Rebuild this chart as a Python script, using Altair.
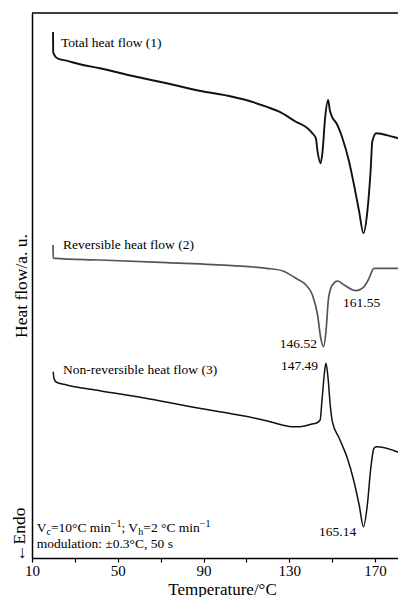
import altair as alt
import pandas as pd

# ---------------- data ----------------
# temperature (°C) and heat flow (a.u.) for the three curves
total_T = [19.8, 19.9, 20.7, 22.0, 26.1, 33.7, 41.6, 57.0, 72.8, 88.1, 103.5, 111.4,
           119.3, 125.3, 133.1, 138.5, 140.8, 142.4, 143.2, 144.6, 145.5, 146.7,
           148.1, 148.9, 149.9, 152.0, 154.8, 157.9, 160.2, 162.6, 164.6, 166.4,
           168.0, 168.7, 170.6, 178.0, 184.0]
total_hf = [530, 510, 506, 503.5, 501.3, 497, 493.7, 486, 478.7, 471.3, 465.3, 461,
            455.3, 450.3, 440.3, 433.7, 428.7, 423.7, 410.3, 398.7, 410.3, 443.7,
            462, 452, 445.3, 438.7, 423.7, 400.3, 377, 350.3, 328.7, 350.3,
            393.7, 420.3, 428.7, 425.3, 422]

rev_T = [19.8, 19.9, 20.7, 41.6, 72.8, 103.5, 119.3, 126.7, 133.1, 137.8, 140.8,
         143.2, 144.7, 146.0, 147.1, 148.3, 150.1, 152.5, 155.6, 161.0, 164.9,
         167.2, 169.5, 184.0]
rev_hf = [317, 304, 303.7, 302, 299.3, 296.3, 293.7, 291.3, 283.7, 277, 267,
          247, 223.7, 215.3, 230.3, 263.7, 277, 281, 277, 271.3, 275.3,
          283.7, 293.7, 293.7]

nonrev_T = [19.9, 20.2, 21.2, 26.1, 41.6, 64.9, 88.1, 103.5, 119.3, 126.7, 131.5,
            134.7, 137.8, 140.7, 142.4, 144.4, 145.2, 146.3, 147.1, 148.1, 149.1,
            150.1, 153.3, 157.1, 160.2, 162.6, 164.6, 166.4, 168.0, 169.5, 170.6,
            184.0]
nonrev_hf = [190.3, 184, 180, 177, 171.3, 163, 153.7, 148, 141.3, 137, 135.3,
             135.3, 136.3, 138, 138.7, 142, 160.3, 187, 198.7, 183.7, 157,
             140.3, 123.7, 103.7, 80.3, 57, 35.3, 57, 93.7, 113.7, 115.3,
             107]

series_names = ["total", "reversible", "nonreversible"]
series_colors = ["#111111", "#555555", "#111111"]

# curve labels: text, T, heat flow
left_labels = ["Total heat flow (1)", "Reversible heat flow (2)",
               "Non-reversible heat flow (3)", "161.55", "165.14"]
left_T = [23.5, 24.5, 24.5, 155.1, 143.9]
left_hf = [515, 313, 188, 255, 26]

right_labels = ["146.52", "147.49"]
right_T = [142.9, 143.4]
right_hf = [214, 192]

x_ticks = list(range(10, 181, 10))

# ---------------- build the table ----------------
rows = []
for name, Ts, Hs in zip(series_names, [total_T, rev_T, nonrev_T],
                        [total_hf, rev_hf, nonrev_hf]):
    for i, (t, h) in enumerate(zip(Ts, Hs)):
        rows.append({"series": name, "T": t, "hf": h, "i": i})
df = pd.DataFrame(rows)
one = pd.DataFrame({"k": [0]})

W, H = 366, 545
FONT = "Liberation Serif"

xscale = alt.Scale(domain=[10, 10 + W / 2.144], nice=False, zero=False)
yscale = alt.Scale(domain=[4, 549], nice=False, zero=False)

lines = alt.Chart(df).mark_line(interpolate="monotone", clip=True).encode(
    x=alt.X("T:Q", scale=xscale, title="Temperature/°C",
            axis=alt.Axis(values=x_ticks,
                          labelExpr="datum.value % 40 == 10 ? datum.label : ''",
                          labelFlush=False, labelOverlap=False,
                          tickSize=4, labelBaseline="alphabetic", labelPadding=13.5,
                          titleX=190, titleY=36, titleAlign="center",
                          titleBaseline="alphabetic", titleFontSize=17, grid=False)),
    y=alt.Y("hf:Q", scale=yscale, title="Heat flow/a. u.",
            axis=alt.Axis(labels=False, ticks=False, grid=False, titlePadding=2)),
    color=alt.Color("series:N", scale=alt.Scale(domain=series_names, range=series_colors),
                    legend=None),
    strokeWidth=alt.StrokeWidth("series:N",
                                scale=alt.Scale(domain=series_names, range=[1.9, 1.5, 1.9]),
                                legend=None),
    order="i:Q",
)

ldf = pd.DataFrame({"text": left_labels, "T": left_T, "hf": left_hf})
rdf = pd.DataFrame({"text": right_labels, "T": right_T, "hf": right_hf})

left_text = alt.Chart(ldf).mark_text(align="left", baseline="alphabetic", font=FONT,
                                     fontSize=13.5, color="black").encode(
    x=alt.X("T:Q", scale=xscale), y=alt.Y("hf:Q", scale=yscale), text="text:N")
right_text = alt.Chart(rdf).mark_text(align="right", baseline="alphabetic", font=FONT,
                                      fontSize=13.5, color="black").encode(
    x=alt.X("T:Q", scale=xscale), y=alt.Y("hf:Q", scale=yscale), text="text:N")

# top border of the frame
top_rule = alt.Chart(one).mark_rule(color="black", strokeWidth=1.5).encode(
    x=alt.value(0), x2=alt.value(W), y=alt.value(0))

# ←Endo marker
endo = alt.Chart(one).mark_text(angle=270, align="left", baseline="alphabetic",
                                font=FONT, fontSize=17.5, color="black").encode(
    x=alt.value(-7), y=alt.value(H + 4), text=alt.value("←Endo"))

# experimental conditions (with sub/superscripts)
WID = {"V": 722, "c": 444, "=": 564, "1": 500, "0": 500, "°": 400, "C": 667, " ": 250,
       "m": 778, "i": 278, "n": 500, "−": 564, ";": 278, "h": 500, "2": 500}
pieces = [("V", 13.5, 0), ("c", 10, 3), ("=10°C min", 13.5, 0), ("−1", 10, -5),
          ("; V", 13.5, 0), ("h", 10, 3), ("=2 °C min", 13.5, 0), ("−1", 10, -5)]
cond_layers = []
px = 4.7
for txt, fs, dy in pieces:
    cond_layers.append(
        alt.Chart(one).mark_text(align="left", baseline="alphabetic", font=FONT,
                                 fontSize=fs, color="black").encode(
            x=alt.value(px), y=alt.value(519 + dy), text=alt.value(txt)))
    px += sum(WID.get(ch, 500) for ch in txt) * fs / 1000.0
cond_layers.append(
    alt.Chart(one).mark_text(align="left", baseline="alphabetic", font=FONT,
                             fontSize=13.5, color="black").encode(
        x=alt.value(4.7), y=alt.value(535), text=alt.value("modulation: ±0.3°C, 50 s")))

chart = alt.layer(lines, left_text, right_text, top_rule, endo, *cond_layers).properties(
    width=W, height=H,
    padding={"left": 24, "top": 5, "right": 0, "bottom": 39},
    autosize=alt.AutoSizeParams(type="none"),
    background="white",
).configure_view(stroke=None).configure_axis(
    domainColor="black", domainWidth=1.5, tickColor="black", tickWidth=1.2,
    labelFont=FONT, labelFontSize=15, labelColor="black",
    titleFont=FONT, titleFontSize=17.5, titleFontWeight="normal", titleColor="black",
)

chart.save("out.html", embed_options={"renderer": "svg", "actions": False})
